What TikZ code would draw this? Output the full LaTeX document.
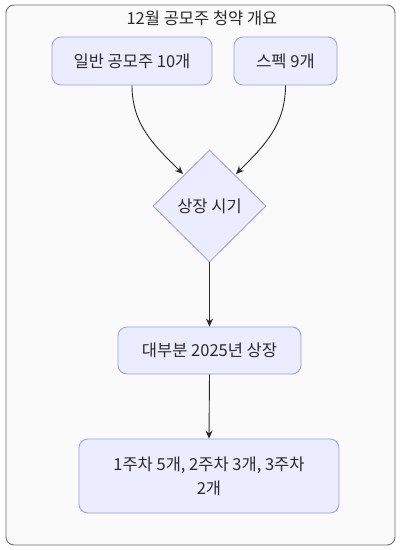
\documentclass[tikz,border=0pt]{standalone}
\usepackage{fontspec}
\setmainfont{Noto Sans CJK KR}
\usetikzlibrary{shapes.geometric,arrows.meta}
\definecolor{nodefill}{HTML}{ECECFF}
\definecolor{nodeline}{HTML}{9B9BE3}
\definecolor{txt}{HTML}{2A2A2A}
\definecolor{framefill}{HTML}{FAFAFA}
\definecolor{frameline}{HTML}{6E6E6E}
\tikzset{
  box/.style={draw=nodeline, fill=nodefill, rounded corners=9pt, line width=0.8pt,
    text=txt, font=\fontsize{16.5}{24}\selectfont, inner sep=0pt, align=center},
  dia/.style={draw=nodeline, fill=nodefill, diamond, line width=0.8pt, inner sep=0pt,
    minimum width=113pt, minimum height=112pt, text=txt, font=\fontsize{16.5}{24}\selectfont},
  conn/.style={draw=txt, line width=0.9pt, -{Stealth[length=8pt,width=7pt]}}
}
\begin{document}
\begin{tikzpicture}[x=1pt,y=1pt]
\useasboundingbox (0,0) rectangle (401,-550);
\fill[white] (0,0) rectangle (401,-550);
\draw[frameline, fill=framefill, line width=0.9pt, rounded corners=8pt] (6,-5) rectangle (395,-545);
\node[text=txt, font=\fontsize{16.5}{20}\selectfont] (title) at (202,-18) {12월 공모주 청약 개요};
\node[box, minimum width=160pt, minimum height=48pt] (a) at (132,-61) {일반 공모주 10개};
\node[box, minimum width=103pt, minimum height=48pt] (b) at (285.5,-61) {스펙 9개};
\node[dia] (d) at (209.5,-206) {상장 시기};
\node[box, minimum width=183pt, minimum height=47pt] (c) at (209.5,-350.5) {대부분 2025년 상장};
\node[box, minimum width=260pt, minimum height=74pt] (e) at (209,-476) {1주차 5개, 2주차 3개, 3주차\\2개};
\coordinate (dl) at (183,-174);
\coordinate (dr) at (236,-174);
\draw[conn] (a.south) to[out=-90,in=135] (dl);
\draw[conn] (b.south) to[out=-90,in=45] (dr);
\draw[conn] (d.south) -- (c.north);
\draw[conn] (c.south) -- (e.north);
\end{tikzpicture}
\end{document}
